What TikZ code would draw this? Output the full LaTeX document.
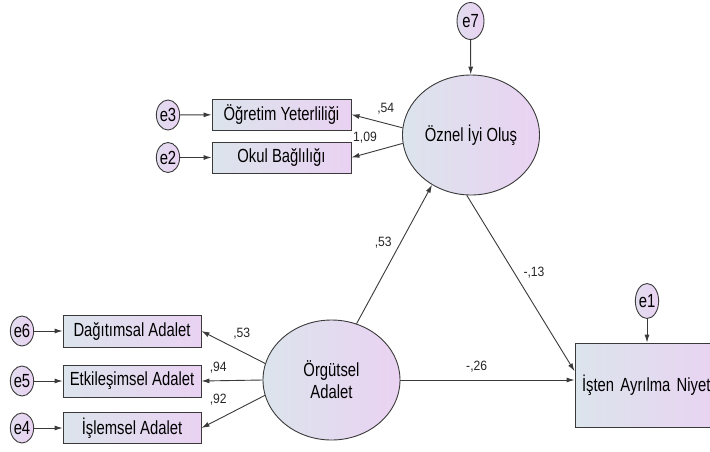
\documentclass[tikz,border=0pt]{standalone}
\usepackage{fontspec}
\setmainfont{Liberation Sans}
\newfontfamily\diagfont[FakeStretch=0.78]{Liberation Sans}
\newfontfamily\coeffont[FakeStretch=0.9]{Liberation Sans}
\usetikzlibrary{shapes.geometric,arrows.meta}
\definecolor{lineclr}{HTML}{3A3A3A}
\definecolor{fillL}{HTML}{DCE4EC}
\definecolor{fillR}{HTML}{EAD2F2}
\tikzset{
  obsbox/.style={draw=lineclr, line width=0.9pt, rectangle, left color=fillL, right color=fillR,
    minimum width=139pt, minimum height=31pt, inner sep=0pt,
    font=\diagfont\fontsize{19}{22}\selectfont},
  latentvar/.style={draw=lineclr, line width=0.9pt, ellipse, left color=fillL, right color=fillR,
    minimum width=137pt, minimum height=120pt, inner sep=0pt, align=center,
    font=\diagfont\fontsize{19}{22}\selectfont},
  errvar/.style={draw=lineclr, line width=0.9pt, ellipse, left color=fillL!60!fillR, right color=fillR,
    minimum width=23pt, minimum height=30pt, inner sep=0pt,
    font=\diagfont\fontsize{19}{22}\selectfont},
  coef/.style={inner sep=0pt, font=\coeffont\fontsize{13.5}{15}\selectfont, text=black!85},
  arr/.style={draw=lineclr, line width=0.9pt, -{Latex[length=8pt,width=5pt]}}
}
\begin{document}
\begin{tikzpicture}[x=1pt,y=-1pt]
\clip (0,0) rectangle (710,451);
\useasboundingbox (0,0) rectangle (710,451);
\fill[white] (0,0) rectangle (710,451);

% latent variables
\node[latentvar] (oz) at (471,135) {Öznel İyi Oluş};
\node[latentvar] (og) at (331.5,380) {Örgütsel\\Adalet};

% error terms
\node[errvar, minimum width=27pt, minimum height=37pt] (e7) at (470.5,21) {e7};
\node[errvar] (e3) at (168,115) {e3};
\node[errvar] (e2) at (168,157.5) {e2};
\node[errvar] (e6) at (22,331) {e6};
\node[errvar] (e5) at (22,381) {e5};
\node[errvar] (e4) at (22,428) {e4};
\node[errvar, minimum width=22pt, minimum height=35pt] (e1) at (647,301) {e1};

% observed variables
\node[obsbox] (oy) at (281.5,114.5) {Öğretim Yeterliliği};
\node[obsbox] (ob) at (281.5,157.5) {Okul Bağlılığı};
\node[obsbox, minimum width=138pt, minimum height=32pt] (db) at (132,331) {Dağıtımsal Adalet};
\node[obsbox, minimum width=138pt, minimum height=32pt] (eb) at (132,381) {Etkileşimsel Adalet};
\node[obsbox, minimum width=138pt, minimum height=31pt] (ib) at (132,428) {İşlemsel Adalet};
\node[obsbox, minimum width=155pt, minimum height=84pt, text width=141pt, inner xsep=7pt, align=left] (it) at (652.5,385) {İşten Ayrılma Niyet};

% error arrows
\draw[arr] (e7) -- (oz);
\draw[arr] (e3) -- (oy);
\draw[arr] (e2) -- (ob);
\draw[arr] (e6) -- (db);
\draw[arr] (e5) -- (eb);
\draw[arr] (e4) -- (ib);
\draw[arr] (e1) -- (e1 |- it.north);

% loadings
\draw[arr] (oz.174) -- (oy.east);
\draw[arr] (oz.187) -- (ob.east);
\draw[arr] (og.166) -- (db.east);
\draw[arr] (og.west) -- (eb.east);
\draw[arr] (og.193) -- (ib.east);

% structural paths
\draw[arr] (og.66) -- (oz.232);
\draw[arr] (oz.266) -- (it.170);
\draw[arr] (og.east) -- (og.east -| it.west);

% coefficients
\node[coef] (c54) at (385.7,109) {,54};
\node[coef] (c109) at (365,137.5) {1,09};
\node[coef] (c53a) at (383.3,243) {,53};
\node[coef] (c13) at (534,273) {-,13};
\node[coef] (c26) at (476.7,367) {-,26};
\node[coef] (c53b) at (241.7,334) {,53};
\node[coef] (c94) at (218.3,367.5) {,94};
\node[coef] (c92) at (218.3,399.5) {,92};
\end{tikzpicture}
\end{document}
